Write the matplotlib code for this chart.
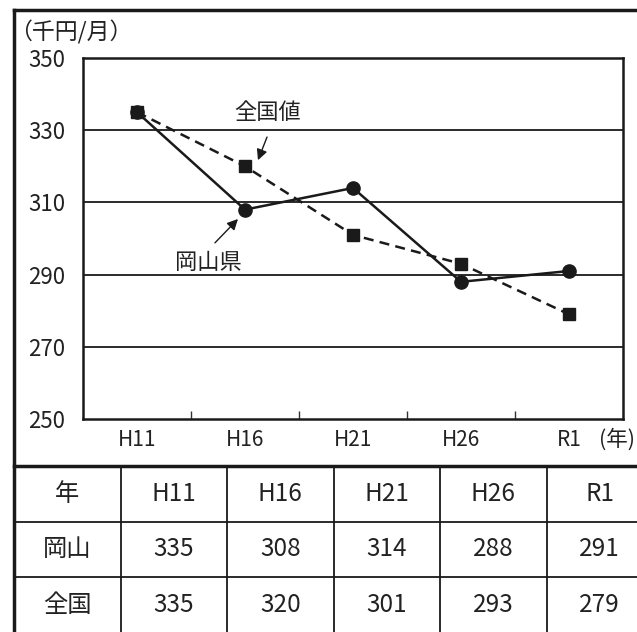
import matplotlib.pyplot as plt

plt.rcParams['font.family'] = ['Noto Sans CJK JP', 'DejaVu Sans']

# データ
years = ['H11', 'H16', 'H21', 'H26', 'R1']
okayama = [335, 308, 314, 288, 291]
zenkoku = [335, 320, 301, 293, 279]
row_names = ['年', '岡山', '全国']
yticks = [250, 270, 290, 310, 330, 350]

W, H = 637, 632
fig = plt.figure(figsize=(W / 100, H / 100), dpi=100)

# 枠と表用のレイヤー（ピクセル座標）
base = fig.add_axes([0, 0, 1, 1])
base.set_xlim(0, W)
base.set_ylim(H, 0)
base.axis('off')

# グラフ
ax = fig.add_axes([83 / W, (H - 419) / H, 540 / W, 361 / H])
x = list(range(len(years)))
ax.plot(x, okayama, color='#1a1a1a', lw=1.8, marker='o', ms=9.5, zorder=3)
ax.plot(x, zenkoku, color='#1a1a1a', lw=1.8, ls=(0, (4, 2.5)), marker='s', ms=8.5, zorder=4)

ax.set_xlim(-0.5, len(years) - 0.5)
ax.set_ylim(250, 350)
ax.set_yticks(yticks)
ax.tick_params(axis='y', length=0, pad=13, labelsize=16, labelcolor='#222')
ax.set_xticks(x)
ax.set_xticklabels(years)
ax.tick_params(axis='x', length=0, pad=7, labelsize=15, labelcolor='#222')
ax.set_xticks([i + 0.5 for i in x[:-1]], minor=True)
ax.tick_params(axis='x', which='minor', direction='in', length=6, width=1, color='#333')
for v in yticks[1:-1]:
    ax.axhline(v, color='#1a1a1a', lw=1.3, zorder=1)
for s in ax.spines.values():
    s.set_linewidth(1.8)
    s.set_color('#1a1a1a')

# 注記と矢印
arrow = dict(arrowstyle='-|>', color='#1a1a1a', lw=1, mutation_scale=16, shrinkA=0, shrinkB=0)
ax.text(1.208, 335.0, '全国値', ha='center', va='center', fontsize=16, color='#222')
ax.annotate('', xy=(1.12, 321.7), xytext=(1.204, 328.1), arrowprops=arrow)
ax.text(0.657, 293.5, '岡山県', ha='center', va='center', fontsize=16, color='#222')
ax.annotate('', xy=(0.935, 305.4), xytext=(0.722, 298.8), arrowprops=arrow)

fig.text(9 / W, 1 - 32 / H, '（千円/月）', fontsize=16.5, va='center', ha='left', color='#222')
fig.text(635 / W, 1 - 440 / H, '(年)', fontsize=15.5, va='center', ha='right', color='#222')

# 外枠
base.plot([14, 14], [10, H + 5], color='#1a1a1a', lw=2.5, solid_capstyle='projecting')
base.plot([14, W + 5], [10, 10], color='#1a1a1a', lw=2.5, solid_capstyle='projecting')
base.plot([14, W + 5], [466, 466], color='#1a1a1a', lw=2.5)

# 表
col_w = 106.5
row_h = 55.5
top = 466
for r in range(1, 3):
    base.plot([14, W + 5], [top + r * row_h] * 2, color='#1a1a1a', lw=1.3)
for c in range(1, 6):
    base.plot([14 + c * col_w] * 2, [top, H + 5], color='#1a1a1a', lw=1.3)

table_rows = [years, okayama, zenkoku]
for r, (name, vals) in enumerate(zip(row_names, table_rows)):
    cy = top + (r + 0.5) * row_h
    base.text(14 + 0.5 * col_w, cy, name, ha='center', va='center', fontsize=17.5, color='#222')
    for c, v in enumerate(vals):
        base.text(14 + (c + 1.5) * col_w, cy, str(v), ha='center', va='center',
                  fontsize=17.5, color='#222')

fig.savefig('out.png', dpi=100, facecolor='white')
